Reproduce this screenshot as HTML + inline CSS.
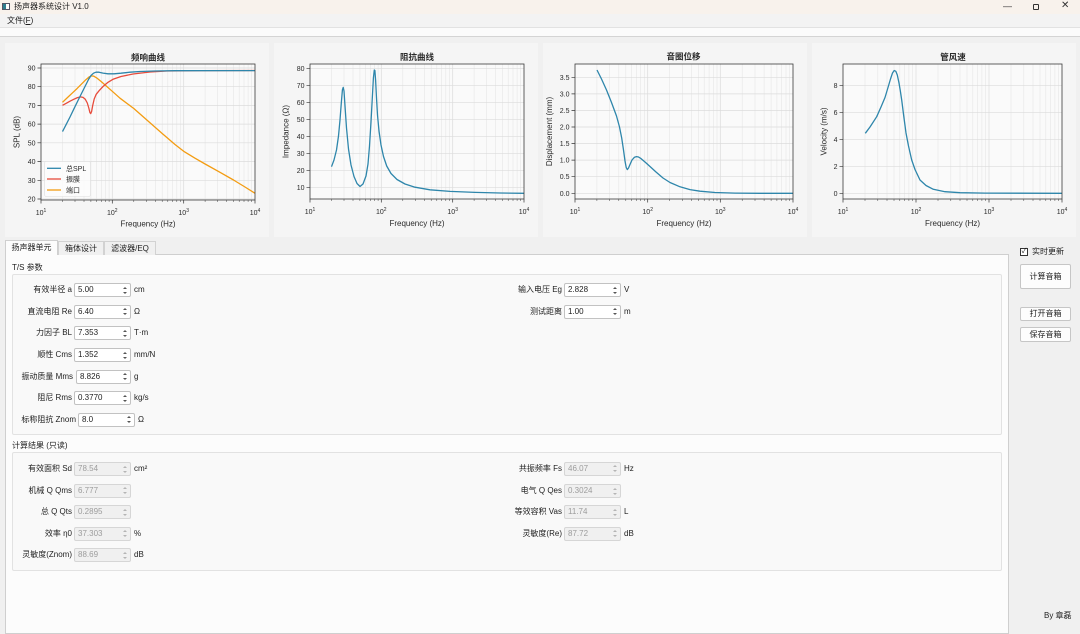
<!DOCTYPE html>
<html><head><meta charset="utf-8">
<style>
*{margin:0;padding:0;box-sizing:border-box}
body{width:1080px;height:620px;overflow:hidden;background:#f0f0f0;position:relative;font-family:"Liberation Sans","Noto Sans CJK SC",sans-serif;font-size:8px;color:#1e1e1e}
.a{position:absolute;white-space:nowrap;line-height:10px}
.lb{position:absolute;width:90px;text-align:right;white-space:nowrap;line-height:10px}
.sp{position:absolute;height:14px;border:1px solid #c2c2c2;border-radius:2px;background:#fff;line-height:12px;padding-left:3px;font-size:8px;color:#1e1e1e}
.sp:before{content:"";position:absolute;right:3px;top:2.5px;border-left:2px solid transparent;border-right:2px solid transparent;border-bottom:2.5px solid #555}
.sp:after{content:"";position:absolute;right:3px;bottom:2.5px;border-left:2px solid transparent;border-right:2px solid transparent;border-top:2.5px solid #555}
.sp.d{background:#f0f0f0;color:#9c9c9c;border-color:#d6d6d6}
.sp.d:before{border-bottom-color:#b4b4b4}
.sp.d:after{border-top-color:#b4b4b4}
.btn{position:absolute;background:#fdfdfd;border:1px solid #c6c6c6;border-radius:2px;text-align:center;font-size:8px;color:#1e1e1e}
.tab{position:absolute;height:14px;line-height:13px;text-align:center;font-size:8px;border:1px solid #d2d2d2;border-bottom:none}
svg text{font-family:"Liberation Sans","Noto Sans CJK SC",sans-serif;fill:#2a2a2a}
</style></head><body>

<!-- title bar -->
<div style="position:absolute;left:0;top:0;width:1080px;height:14px;background:#f8f2ec"></div>
<div style="position:absolute;left:2px;top:3px;width:8px;height:7px;border:1px solid #556;background:#fff"></div>
<div style="position:absolute;left:3px;top:4px;width:3px;height:5px;background:#2f7f8f"></div>
<div class="a" style="left:14px;top:2px">扬声器系统设计 V1.0</div>
<div class="a" style="left:1003px;top:1px;font-size:9px;color:#333">—</div>
<div style="position:absolute;left:1033px;top:4px;width:6px;height:6px;border:1px solid #333;border-radius:1px"></div>
<div class="a" style="left:1061px;top:1px;font-size:10px;color:#333">✕</div>
<!-- menu -->
<div style="position:absolute;left:0;top:14px;width:1080px;height:13px;background:#f3f3f3"></div>
<div class="a" style="left:7px;top:15.5px">文件(<u>F</u>)</div>
<div style="position:absolute;left:0;top:27px;width:1080px;height:1px;background:#e2e2e2"></div>
<div style="position:absolute;left:0;top:28px;width:1080px;height:8px;background:#fbfbfb"></div>
<div style="position:absolute;left:0;top:36px;width:1080px;height:1px;background:#d4d4d4"></div>

<svg width="1080" height="240" viewBox="0 0 1080 240" style="position:absolute;left:0;top:0">
<rect x="5" y="43" width="264" height="194" fill="#f5f5f5"/>
<rect x="274" y="43" width="264" height="194" fill="#f5f5f5"/>
<rect x="543" y="43" width="264" height="194" fill="#f5f5f5"/>
<rect x="812" y="43" width="264" height="194" fill="#f5f5f5"/>

<!-- ===== Chart 1 ===== -->
<rect x="41" y="64" width="214" height="136" fill="#fafafa"/>
<path d="M62.5 64V200M75 64V200M84 64V200M90.9 64V200M96.5 64V200M101.3 64V200M105.4 64V200M109.1 64V200M133.8 64V200M146.4 64V200M155.3 64V200M162.2 64V200M167.8 64V200M172.6 64V200M176.8 64V200M180.4 64V200M205.1 64V200M217.7 64V200M226.6 64V200M233.5 64V200M239.2 64V200M244 64V200M248.1 64V200M251.7 64V200" stroke="#e6e6e6" stroke-width="0.6" fill="none"/>
<path d="M112.3 64V200M183.7 64V200M41 68H255M41 86.7H255M41 105.4H255M41 124.1H255M41 142.8H255M41 161.6H255M41 180.3H255M41 199H255" stroke="#dcdcdc" stroke-width="0.7" fill="none"/>
<path d="M62.5 200V202M75 200V202M84 200V202M90.9 200V202M96.5 200V202M101.3 200V202M105.4 200V202M109.1 200V202M133.8 200V202M146.4 200V202M155.3 200V202M162.2 200V202M167.8 200V202M172.6 200V202M176.8 200V202M180.4 200V202M205.1 200V202M217.7 200V202M226.6 200V202M233.5 200V202M239.2 200V202M244 200V202M248.1 200V202M251.7 200V202" stroke="#444" stroke-width="0.5"/>
<path d="M41 200V203.5M112.3 200V203.5M183.7 200V203.5M255 200V203.5M37.5 68H41M37.5 86.7H41M37.5 105.4H41M37.5 124.1H41M37.5 142.8H41M37.5 161.6H41M37.5 180.3H41M37.5 199H41" stroke="#333" stroke-width="0.7"/>
<polyline fill="none" stroke="#f39c12" stroke-width="1.3" stroke-linejoin="round" points="62.5,102.3 67,98 72,93.3 77,88.6 82,83.6 86,79.6 89,77 91.5,75.9 93.8,76.2 96.5,77.8 101.3,81.6 105.4,85.2 112.3,91.3 120,98.2 133.8,108.5 148,121 162.2,133.5 175,144.5 183.7,151.3 195,158.2 205.1,164 220,172.3 233.5,180 245,187 255,193.3"/>
<polyline fill="none" stroke="#e74c3c" stroke-width="1.3" stroke-linejoin="round" points="62.5,105.3 66,103.4 70,101.2 74,99.2 77.5,97.6 80.5,96.9 83,97.4 85.3,99.3 87.3,103 88.8,108 89.9,112.5 90.7,113.6 91.6,111.5 92.7,105.5 94.2,99 96.2,94.3 99,90.8 103,86.5 108,82.3 113,79.3 121,76.5 133,74 150,72 167,71 200,70.6 255,70.5"/>
<polyline fill="none" stroke="#2e86ab" stroke-width="1.3" stroke-linejoin="round" points="62.5,131.6 66,124.8 70,117 74,108.7 78,100.5 82,92.5 85.5,85.5 88.5,79.5 91,75.5 93.5,73.2 96,72.2 99,72.2 103,73.1 108,73.8 114,73.8 121,73.2 130,72.2 140,71.5 155,71 175,70.7 255,70.6"/>
<rect x="41" y="64" width="214" height="136" fill="none" stroke="#3a3a3a" stroke-width="0.8"/>
<rect x="44.5" y="161.5" width="46" height="35" rx="2" fill="#fcfcfc" fill-opacity="0.85" stroke="#dcdcdc" stroke-width="0.6"/>
<path d="M47 168.3H61" stroke="#2e86ab" stroke-width="1.3"/>
<path d="M47 179H61" stroke="#e74c3c" stroke-width="1.3"/>
<path d="M47 190H61" stroke="#f39c12" stroke-width="1.3"/>
<text x="66" y="171" font-size="7">总SPL</text>
<text x="66" y="181.7" font-size="7">振膜</text>
<text x="66" y="192.7" font-size="7">端口</text>
<g font-size="7" text-anchor="end">
<text x="35.5" y="70.5">90</text><text x="35.5" y="89.2">80</text><text x="35.5" y="107.9">70</text><text x="35.5" y="126.6">60</text><text x="35.5" y="145.3">50</text><text x="35.5" y="164.1">40</text><text x="35.5" y="182.8">30</text><text x="35.5" y="201.5">20</text>
</g>
<g font-size="7" text-anchor="middle">
<text x="41" y="215">10<tspan font-size="5" dy="-3">1</tspan></text>
<text x="112.3" y="215">10<tspan font-size="5" dy="-3">2</tspan></text>
<text x="183.7" y="215">10<tspan font-size="5" dy="-3">3</tspan></text>
<text x="255" y="215">10<tspan font-size="5" dy="-3">4</tspan></text>
</g>
<text x="148" y="226.3" font-size="8" text-anchor="middle">Frequency (Hz)</text>
<text transform="translate(19.5,132) rotate(-90)" font-size="8" text-anchor="middle">SPL (dB)</text>
<text x="148" y="60.3" font-size="8.5" font-weight="bold" text-anchor="middle">频响曲线</text>

<!-- ===== Chart 2 ===== -->
<rect x="310" y="64" width="214" height="135" fill="#fafafa"/>
<path d="M331.5 64V199M344 64V199M353 64V199M359.9 64V199M365.5 64V199M370.3 64V199M374.4 64V199M378.1 64V199M402.8 64V199M415.4 64V199M424.3 64V199M431.2 64V199M436.8 64V199M441.6 64V199M445.8 64V199M449.4 64V199M474.1 64V199M486.7 64V199M495.6 64V199M502.5 64V199M508.2 64V199M513 64V199M517.1 64V199M520.7 64V199" stroke="#e6e6e6" stroke-width="0.6" fill="none"/>
<path d="M381.3 64V199M452.7 64V199M310 68.7H524M310 85.7H524M310 102.7H524M310 119.7H524M310 136.7H524M310 153.7H524M310 170.7H524M310 187.7H524" stroke="#dcdcdc" stroke-width="0.7" fill="none"/>
<path d="M331.5 199V201M344 199V201M353 199V201M359.9 199V201M365.5 199V201M370.3 199V201M374.4 199V201M378.1 199V201M402.8 199V201M415.4 199V201M424.3 199V201M431.2 199V201M436.8 199V201M441.6 199V201M445.8 199V201M449.4 199V201M474.1 199V201M486.7 199V201M495.6 199V201M502.5 199V201M508.2 199V201M513 199V201M517.1 199V201M520.7 199V201" stroke="#444" stroke-width="0.5"/>
<path d="M310 199V202.5M381.3 199V202.5M452.7 199V202.5M524 199V202.5M306.5 68.7H310M306.5 85.7H310M306.5 102.7H310M306.5 119.7H310M306.5 136.7H310M306.5 153.7H310M306.5 170.7H310M306.5 187.7H310" stroke="#333" stroke-width="0.7"/>
<polyline fill="none" stroke="#2e86ab" stroke-width="1.3" stroke-linejoin="round" points="331.5,166.7 334,160 336.5,150 338.5,136 340,120 341.3,103 342.4,90 343.2,87.4 344,91 345,106 346.5,128 348.5,149 351,165 354,176.5 357,183.5 360,186.5 363,184 366,176 368,164 369.5,146 371,122 372.3,98 373.4,78 374.3,70 374.9,70.5 375.6,80 376.5,98 377.5,115 379,131 381,145 383.5,156.5 386.7,166 391,173.5 397,179.5 405,184 415,187.2 430,189.8 450,191.4 475,192.4 500,193 524,193.3"/>
<rect x="310" y="64" width="214" height="135" fill="none" stroke="#3a3a3a" stroke-width="0.8"/>
<g font-size="7" text-anchor="end">
<text x="304.5" y="71.2">80</text><text x="304.5" y="88.2">70</text><text x="304.5" y="105.2">60</text><text x="304.5" y="122.2">50</text><text x="304.5" y="139.2">40</text><text x="304.5" y="156.2">30</text><text x="304.5" y="173.2">20</text><text x="304.5" y="190.2">10</text>
</g>
<g font-size="7" text-anchor="middle">
<text x="310" y="214">10<tspan font-size="5" dy="-3">1</tspan></text>
<text x="381.3" y="214">10<tspan font-size="5" dy="-3">2</tspan></text>
<text x="452.7" y="214">10<tspan font-size="5" dy="-3">3</tspan></text>
<text x="524" y="214">10<tspan font-size="5" dy="-3">4</tspan></text>
</g>
<text x="417" y="226" font-size="8" text-anchor="middle">Frequency (Hz)</text>
<text transform="translate(288.5,131.5) rotate(-90)" font-size="8" text-anchor="middle">Impedance (Ω)</text>
<text x="417" y="60" font-size="8.5" font-weight="bold" text-anchor="middle">阻抗曲线</text>

<!-- ===== Chart 3 ===== -->
<rect x="575" y="64" width="218" height="135" fill="#fafafa"/>
<path d="M596.9 64V199M609.7 64V199M618.8 64V199M625.8 64V199M631.6 64V199M636.4 64V199M640.6 64V199M644.3 64V199M669.5 64V199M682.3 64V199M691.4 64V199M698.5 64V199M704.2 64V199M709.1 64V199M713.3 64V199M717 64V199M742.2 64V199M755 64V199M764.1 64V199M771.1 64V199M776.9 64V199M781.7 64V199M786 64V199M789.7 64V199" stroke="#e6e6e6" stroke-width="0.6" fill="none"/>
<path d="M647.7 64V199M720.3 64V199M575 77.3H793M575 93.9H793M575 110.4H793M575 127H793M575 143.6H793M575 160.1H793M575 176.7H793M575 193.3H793" stroke="#dcdcdc" stroke-width="0.7" fill="none"/>
<path d="M596.9 199V201M609.7 199V201M618.8 199V201M625.8 199V201M631.6 199V201M636.4 199V201M640.6 199V201M644.3 199V201M669.5 199V201M682.3 199V201M691.4 199V201M698.5 199V201M704.2 199V201M709.1 199V201M713.3 199V201M717 199V201M742.2 199V201M755 199V201M764.1 199V201M771.1 199V201M776.9 199V201M781.7 199V201M786 199V201M789.7 199V201" stroke="#444" stroke-width="0.5"/>
<path d="M575 199V202.5M647.7 199V202.5M720.3 199V202.5M793 199V202.5M571.5 77.3H575M571.5 93.9H575M571.5 110.4H575M571.5 127H575M571.5 143.6H575M571.5 160.1H575M571.5 176.7H575M571.5 193.3H575" stroke="#333" stroke-width="0.7"/>
<polyline fill="none" stroke="#2e86ab" stroke-width="1.3" stroke-linejoin="round" points="597,70 601.5,79 606.5,90 611.5,102.5 616.5,116 619.5,127 621.7,138 623.5,150 625,161 626.2,167.5 627.3,169.6 628.5,168 630,164.5 632,160 634.5,157.2 636.5,156.6 638.5,157 641,158.6 645,162 650,166.5 656,172 663,178 670,182.5 680,186.8 690,189.6 700,191.2 715,192.5 735,193.1 760,193.3 793,193.3"/>
<rect x="575" y="64" width="218" height="135" fill="none" stroke="#3a3a3a" stroke-width="0.8"/>
<g font-size="7" text-anchor="end">
<text x="569.5" y="79.8">3.5</text><text x="569.5" y="96.4">3.0</text><text x="569.5" y="112.9">2.5</text><text x="569.5" y="129.5">2.0</text><text x="569.5" y="146.1">1.5</text><text x="569.5" y="162.6">1.0</text><text x="569.5" y="179.2">0.5</text><text x="569.5" y="195.8">0.0</text>
</g>
<g font-size="7" text-anchor="middle">
<text x="575" y="214">10<tspan font-size="5" dy="-3">1</tspan></text>
<text x="647.7" y="214">10<tspan font-size="5" dy="-3">2</tspan></text>
<text x="720.3" y="214">10<tspan font-size="5" dy="-3">3</tspan></text>
<text x="793" y="214">10<tspan font-size="5" dy="-3">4</tspan></text>
</g>
<text x="684" y="226" font-size="8" text-anchor="middle">Frequency (Hz)</text>
<text transform="translate(552,131.5) rotate(-90)" font-size="8" text-anchor="middle">Displacement (mm)</text>
<text x="683.5" y="59.5" font-size="8.5" font-weight="bold" text-anchor="middle">音圈位移</text>

<!-- ===== Chart 4 ===== -->
<rect x="843" y="64" width="219" height="135" fill="#fafafa"/>
<path d="M865 64V199M877.8 64V199M887 64V199M894 64V199M899.8 64V199M904.7 64V199M908.9 64V199M912.7 64V199M938 64V199M950.8 64V199M960 64V199M967 64V199M972.8 64V199M977.7 64V199M981.9 64V199M985.7 64V199M1011 64V199M1023.8 64V199M1033 64V199M1040 64V199M1045.8 64V199M1050.7 64V199M1054.9 64V199M1058.7 64V199" stroke="#e6e6e6" stroke-width="0.6" fill="none"/>
<path d="M916 64V199M989 64V199M843 85.3H1062M843 112.3H1062M843 139.3H1062M843 166.3H1062M843 193.3H1062" stroke="#dcdcdc" stroke-width="0.7" fill="none"/>
<path d="M865 199V201M877.8 199V201M887 199V201M894 199V201M899.8 199V201M904.7 199V201M908.9 199V201M912.7 199V201M938 199V201M950.8 199V201M960 199V201M967 199V201M972.8 199V201M977.7 199V201M981.9 199V201M985.7 199V201M1011 199V201M1023.8 199V201M1033 199V201M1040 199V201M1045.8 199V201M1050.7 199V201M1054.9 199V201M1058.7 199V201" stroke="#444" stroke-width="0.5"/>
<path d="M843 199V202.5M916 199V202.5M989 199V202.5M1062 199V202.5M839.5 85.3H843M839.5 112.3H843M839.5 139.3H843M839.5 166.3H843M839.5 193.3H843" stroke="#333" stroke-width="0.7"/>
<polyline fill="none" stroke="#2e86ab" stroke-width="1.3" stroke-linejoin="round" points="865.3,133.3 870,127 876.7,116.7 881,107 885,97.5 888,87.5 890.5,79 892.5,73 894.2,70.5 895.8,71.3 897.3,75 899,83 900.5,92 901.7,100 903.8,116.5 906,133 908.5,146 911.7,160 915,169.5 920,180 926,185.5 933.3,189.3 945,191.7 960,192.7 985,193.1 1062,193.3"/>
<rect x="843" y="64" width="219" height="135" fill="none" stroke="#3a3a3a" stroke-width="0.8"/>
<g font-size="7" text-anchor="end">
<text x="837.5" y="87.8">8</text><text x="837.5" y="114.8">6</text><text x="837.5" y="141.8">4</text><text x="837.5" y="168.8">2</text><text x="837.5" y="195.8">0</text>
</g>
<g font-size="7" text-anchor="middle">
<text x="843" y="214">10<tspan font-size="5" dy="-3">1</tspan></text>
<text x="916" y="214">10<tspan font-size="5" dy="-3">2</tspan></text>
<text x="989" y="214">10<tspan font-size="5" dy="-3">3</tspan></text>
<text x="1062" y="214">10<tspan font-size="5" dy="-3">4</tspan></text>
</g>
<text x="952.5" y="226" font-size="8" text-anchor="middle">Frequency (Hz)</text>
<text transform="translate(826.3,131.5) rotate(-90)" font-size="8" text-anchor="middle">Velocity (m/s)</text>
<text x="953" y="60" font-size="8.5" font-weight="bold" text-anchor="middle">管风速</text>
</svg>

<!-- tabs -->
<div style="position:absolute;left:5px;top:254px;width:1004px;height:380px;background:#fcfcfc;border:1px solid #cfcfcf"></div>
<div class="tab" style="left:5px;top:240px;width:53px;height:15px;background:#fcfcfc;border-color:#cfcfcf">扬声器单元</div>
<div class="tab" style="left:58px;top:241px;width:46px;background:#f0f0f0">箱体设计</div>
<div class="tab" style="left:104px;top:241px;width:52px;background:#f0f0f0">滤波器/EQ</div>

<!-- group 1 -->
<div class="a" style="left:12px;top:263px">T/S 参数</div>
<div style="position:absolute;left:12px;top:274px;width:990px;height:161px;background:#f9f9f9;border:1px solid #e2e2e2;border-radius:2px"></div>

<div class="lb" style="left:-18px;top:285px">有效半径 a</div>
<div class="sp" style="left:74px;top:283px;width:57px">5.00</div>
<div class="a" style="left:134px;top:285px">cm</div>

<div class="lb" style="left:-18px;top:306.5px">直流电阻 Re</div>
<div class="sp" style="left:74px;top:304.5px;width:57px">6.40</div>
<div class="a" style="left:134px;top:306.5px">Ω</div>

<div class="lb" style="left:-18px;top:328px">力因子 BL</div>
<div class="sp" style="left:74px;top:326px;width:57px">7.353</div>
<div class="a" style="left:134px;top:328px">T·m</div>

<div class="lb" style="left:-18px;top:350px">顺性 Cms</div>
<div class="sp" style="left:74px;top:348px;width:57px">1.352</div>
<div class="a" style="left:134px;top:350px">mm/N</div>

<div class="lb" style="left:-17px;top:371.5px">振动质量 Mms</div>
<div class="sp" style="left:76px;top:369.5px;width:55px">8.826</div>
<div class="a" style="left:134px;top:371.5px">g</div>

<div class="lb" style="left:-18px;top:393px">阻尼 Rms</div>
<div class="sp" style="left:74px;top:391px;width:57px">0.3770</div>
<div class="a" style="left:134px;top:393px">kg/s</div>

<div class="lb" style="left:-14px;top:414.5px">标称阻抗 Znom</div>
<div class="sp" style="left:78px;top:412.5px;width:57px">8.0</div>
<div class="a" style="left:138px;top:414.5px">Ω</div>

<div class="lb" style="left:472px;top:285px">输入电压 Eg</div>
<div class="sp" style="left:564px;top:283px;width:57px">2.828</div>
<div class="a" style="left:624px;top:285px">V</div>

<div class="lb" style="left:472px;top:306.5px">测试距离</div>
<div class="sp" style="left:564px;top:304.5px;width:57px">1.00</div>
<div class="a" style="left:624px;top:306.5px">m</div>

<!-- group 2 -->
<div class="a" style="left:12px;top:441px">计算结果 (只读)</div>
<div style="position:absolute;left:12px;top:452px;width:990px;height:119px;background:#f9f9f9;border:1px solid #e2e2e2;border-radius:2px"></div>

<div class="lb" style="left:-18px;top:464px">有效面积 Sd</div>
<div class="sp d" style="left:74px;top:462px;width:57px">78.54</div>
<div class="a" style="left:134px;top:464px">cm²</div>

<div class="lb" style="left:-18px;top:485.5px">机械 Q Qms</div>
<div class="sp d" style="left:74px;top:483.5px;width:57px">6.777</div>

<div class="lb" style="left:-18px;top:507px">总 Q Qts</div>
<div class="sp d" style="left:74px;top:505px;width:57px">0.2895</div>

<div class="lb" style="left:-18px;top:528.5px">效率 η0</div>
<div class="sp d" style="left:74px;top:526.5px;width:57px">37.303</div>
<div class="a" style="left:134px;top:528.5px">%</div>

<div class="lb" style="left:-18px;top:550px">灵敏度(Znom)</div>
<div class="sp d" style="left:74px;top:548px;width:57px">88.69</div>
<div class="a" style="left:134px;top:550px">dB</div>

<div class="lb" style="left:472px;top:463.5px">共振频率 Fs</div>
<div class="sp d" style="left:564px;top:461.5px;width:57px">46.07</div>
<div class="a" style="left:624px;top:463.5px">Hz</div>

<div class="lb" style="left:472px;top:486px">电气 Q Qes</div>
<div class="sp d" style="left:564px;top:484px;width:57px">0.3024</div>

<div class="lb" style="left:472px;top:507px">等效容积 Vas</div>
<div class="sp d" style="left:564px;top:505px;width:57px">11.74</div>
<div class="a" style="left:624px;top:507px">L</div>

<div class="lb" style="left:472px;top:528.5px">灵敏度(Re)</div>
<div class="sp d" style="left:564px;top:526.5px;width:57px">87.72</div>
<div class="a" style="left:624px;top:528.5px">dB</div>

<!-- right controls -->
<div style="position:absolute;left:1020px;top:248px;width:8px;height:8px;border:1px solid #333;background:#fff;font-size:7px;line-height:6px;text-align:center;color:#111">✓</div>
<div class="a" style="left:1032px;top:247px">实时更新</div>
<div class="btn" style="left:1020px;top:264px;width:51px;height:25px;line-height:23px">计算音箱</div>
<div class="btn" style="left:1020px;top:307px;width:51px;height:14px;line-height:12px">打开音箱</div>
<div class="btn" style="left:1020px;top:327px;width:51px;height:15px;line-height:13px">保存音箱</div>
<div class="a" style="left:1044px;top:611px">By 章磊</div>
</body></html>
